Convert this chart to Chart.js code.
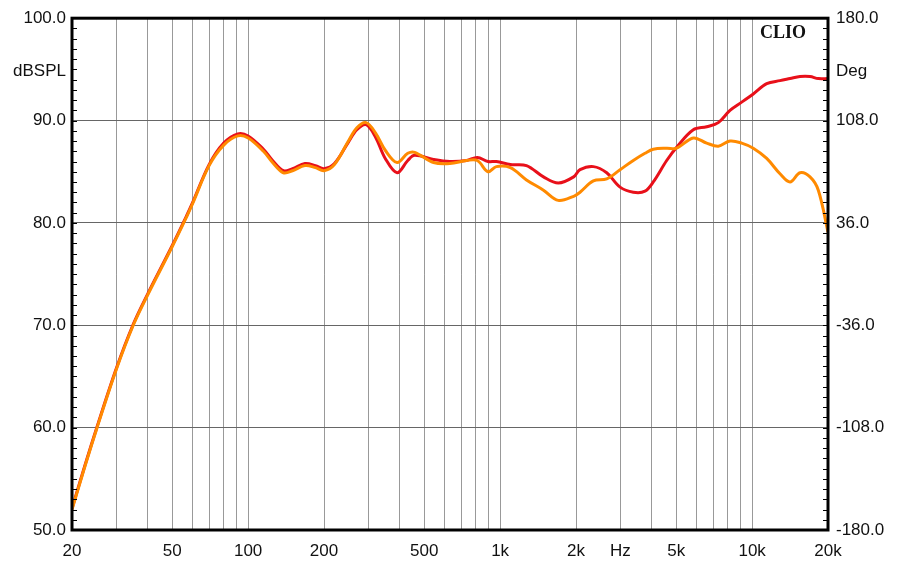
<!DOCTYPE html>
<html>
<head>
<meta charset="utf-8">
<script src="https://cdn.jsdelivr.net/npm/chart.js@4.4.0/dist/chart.umd.min.js"></script>
<style>
	html, body { margin: 0; padding: 0; background: #fff; }
	canvas { display: block; }
</style>
</head>
<body>
<canvas id="clio" width="900" height="563"></canvas>
<script>
// Frequency points (Hz)
var freqs = [20, 22.5, 25, 30, 35, 40, 50, 57, 60, 70,
	80, 91, 100, 115, 125, 138, 150, 168, 185, 200,
	220, 250, 270, 294, 320, 350, 390, 430, 458, 544,
	632, 736, 812, 895, 966, 1098, 1272, 1486, 1701, 1958,
	2075, 2344, 2648, 2991, 3376, 3756, 4052, 4580, 5018, 5842,
	6602, 7340, 8168, 9090, 10104, 11424, 12898, 14134, 15486, 16968,
	18306, 20000];

// Red trace, dBSPL
var redDb = [52.1, 56.3, 59.9, 65.8, 70.1, 73.1, 77.8, 80.7, 81.9, 85.7,
	87.8, 88.7, 88.5, 87.2, 86.1, 85.1, 85.3, 85.8, 85.6, 85.3,
	85.8, 87.9, 89.1, 89.6, 88.4, 86.3, 84.9, 86.1, 86.6, 86.2,
	86.0, 86.1, 86.4, 86.0, 86.0, 85.7, 85.6, 84.5, 83.9, 84.5,
	85.2, 85.5, 84.9, 83.5, 83.0, 83.1, 84.0, 86.1, 87.4, 89.1,
	89.4, 89.8, 91.0, 91.8, 92.6, 93.6, 93.9, 94.1, 94.3, 94.3,
	94.1, 94.1];

// Orange trace, dBSPL
var orangeDb = [52.0, 56.2, 59.8, 65.7, 70.0, 73.0, 77.7, 80.6, 81.8, 85.6,
	87.6, 88.5, 88.3, 87.0, 85.9, 84.9, 85.1, 85.6, 85.4, 85.1,
	85.7, 88.0, 89.3, 89.8, 88.8, 87.1, 85.9, 86.8, 86.9, 85.9,
	85.8, 86.1, 86.1, 85.0, 85.5, 85.4, 84.2, 83.2, 82.2, 82.6,
	83.0, 84.1, 84.3, 85.2, 86.1, 86.8, 87.2, 87.3, 87.3, 88.3,
	87.8, 87.5, 88.0, 87.8, 87.3, 86.3, 84.8, 84.0, 84.9, 84.5,
	83.2, 79.1];

// Vertical grid lines and the labels shown under them
var gridFreqs = [20, 30, 40, 50, 60, 70, 80, 90,
	100, 200, 300, 400, 500, 600, 700, 800, 900,
	1000, 2000, 3000, 4000, 5000, 6000, 7000, 8000, 9000,
	10000, 20000];
var freqLabels = {20: "20", 50: "50", 100: "100", 200: "200", 500: "500",
	1000: "1k", 2000: "2k", 3000: "Hz", 5000: "5k", 10000: "10k", 20000: "20k"};

var FONT = "'Liberation Sans', Arial, sans-serif";

function points(ys) {
	return freqs.map(function(f, i) {
		return {x: f, y: ys[i]};
	});
}

// Frame, inner minor ticks and the loose texts
var clioDecor = {
	id: "clioDecor",
	afterDraw: function(chart) {
		var ctx = chart.ctx;
		var a = chart.chartArea;
		var y = chart.scales.y;
		ctx.save();
		ctx.strokeStyle = "#000";
		ctx.lineWidth = 1;
		ctx.beginPath();
		for (var v = 51; v < 100; v++) {
			var py = Math.round(y.getPixelForValue(v)) + 0.5;
			ctx.moveTo(a.left, py);
			ctx.lineTo(a.left + 5, py);
			ctx.moveTo(a.right - 5, py);
			ctx.lineTo(a.right, py);
		}
		ctx.stroke();

		ctx.lineWidth = 3;
		ctx.strokeRect(a.left, a.top, a.right - a.left, a.bottom - a.top);

		ctx.fillStyle = "#111";
		ctx.textBaseline = "middle";
		ctx.font = "17px " + FONT;
		ctx.textAlign = "right";
		ctx.fillText("dBSPL", a.left - 6, y.getPixelForValue(95) + 2);
		ctx.textAlign = "left";
		ctx.fillText("Deg", a.right + 8, y.getPixelForValue(95) + 2);
		ctx.font = "bold 18px 'Liberation Serif', 'Times New Roman', serif";
		ctx.fillText("CLIO", a.right - 68, a.top + 15);
		ctx.restore();
	}
};

var ctx = document.getElementById("clio").getContext("2d");
new Chart(ctx, {
	type: "line",
	data: {
		datasets: [{
			data: points(orangeDb),
			borderColor: "#ff8a00",
			borderWidth: 3,
			pointRadius: 0,
			tension: 0.35,
			order: 0
		}, {
			data: points(redDb),
			borderColor: "#e8101a",
			borderWidth: 3,
			pointRadius: 0,
			tension: 0.35,
			order: 1
		}]
	},
	options: {
		responsive: false,
		animation: false,
		layout: {padding: {top: 18}},
		plugins: {legend: {display: false}, tooltip: {enabled: false}},
		scales: {
			x: {
				type: "logarithmic",
				min: 20,
				max: 20000,
				afterBuildTicks: function(s) {
					s.ticks = gridFreqs.map(function(f) { return {value: f}; });
				},
				afterFit: function(s) { s.height = 33; },
				border: {display: false},
				grid: {color: "#999", drawTicks: false},
				ticks: {
					autoSkip: false,
					maxRotation: 0,
					padding: 11,
					color: "#111",
					font: {family: FONT, size: 17},
					callback: function(v) { return freqLabels[v] || ""; }
				}
			},
			y: {
				position: "left",
				min: 50,
				max: 100,
				afterFit: function(s) { s.width = 72; },
				border: {display: false},
				grid: {color: "#666", drawTicks: false},
				ticks: {
					stepSize: 10,
					padding: 6,
					color: "#111",
					font: {family: FONT, size: 17},
					callback: function(v) { return v.toFixed(1); }
				}
			},
			y2: {
				position: "right",
				min: -180,
				max: 180,
				afterFit: function(s) { s.width = 72; },
				border: {display: false},
				grid: {display: false, drawTicks: false},
				ticks: {
					stepSize: 72,
					padding: 8,
					color: "#111",
					font: {family: FONT, size: 17},
					callback: function(v) { return v.toFixed(1); }
				}
			}
		}
	},
	plugins: [clioDecor]
});
</script>
</body>
</html>
